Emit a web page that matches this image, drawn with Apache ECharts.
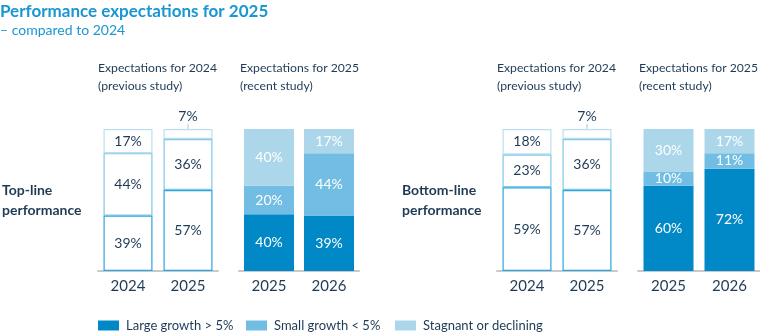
<!DOCTYPE html>
<html><head><meta charset="utf-8">
<script src="https://cdn.jsdelivr.net/npm/echarts@6/dist/echarts.min.js"></script>
<style>html,body{margin:0;padding:0;background:#fff}#c{width:760px;height:333px}</style>
</head><body><div id="c"></div>
<script>
const seriesNames = ['Large growth > 5%', 'Small growth < 5%', 'Stagnant or declining'];
const prevCats = ['2024', '2025'];
const recentCats = ['2025', '2026'];
// Top-line performance
const topPrevLarge = [39, 57], topPrevSmall = [44, 36], topPrevStag = [17, 7];
const topRecLarge = [40, 39], topRecSmall = [20, 44], topRecStag = [40, 17];
// Bottom-line performance
const botPrevLarge = [59, 57], botPrevSmall = [23, 36], botPrevStag = [18, 7];
const botRecLarge = [60, 72], botRecSmall = [10, 11], botRecStag = [30, 17];

const fills = ['#0088c7', '#72bde3', '#acd6ea'];
const borders = ['#2aa5df', '#80c7e8', '#bcdff0'];
const dark = '#1e3a55';
const font = 'Lato';

const grids = [
  {left: 98, width: 120, top: 129, height: 142},
  {left: 239, width: 120, top: 129, height: 142},
  {left: 497, width: 120, top: 129, height: 142},
  {left: 638, width: 122, top: 129, height: 142}
];
const cats = [prevCats, recentCats, prevCats, recentCats];

function prevSeries(gi, arrs) {
  return arrs.map((arr, k) => ({
    name: 'prev' + k, type: 'bar', stack: 's' + gi, xAxisIndex: gi, yAxisIndex: gi,
    barWidth: 49, z: 5 - k,
    data: arr.map(v => {
      const d = {value: v};
      if (k === 2 && v < 10) {
        d.label = {position: 'top', distance: 0, formatter: '{a|{c}%}\n{b|}',
          rich: {a: {fontSize: 14, color: dark, fontFamily: font, lineHeight: 16, align: 'center'},
                 b: {width: 1, height: 5, backgroundColor: '#b8c4cc', align: 'center'}}};
      }
      return d;
    }),
    itemStyle: {color: '#fff', borderColor: borders[k], borderWidth: 1.2},
    label: {show: true, position: 'inside', formatter: '{c}%', color: dark, fontSize: 14, fontFamily: font},
    emphasis: {disabled: true}
  }));
}
function recSeries(gi, arrs) {
  return arrs.map((arr, k) => ({
    name: seriesNames[k], type: 'bar', stack: 's' + gi, xAxisIndex: gi, yAxisIndex: gi,
    barWidth: 50,
    data: arr,
    itemStyle: {color: fills[k]},
    label: {show: true, position: 'inside', formatter: '{c}%', color: '#fff', fontSize: 14, fontFamily: font},
    emphasis: {disabled: true}
  }));
}

const titleText = (text, left, top, style) => ({text, left, top, padding: 0, textStyle: Object.assign({fontFamily: font, color: dark, fontSize: 12.2, fontWeight: 'normal', lineHeight: 18}, style)});

const option = {
  animation: false,
  title: [
    titleText('Performance expectations for 2025', 0, 2, {fontSize: 17, fontWeight: 'bold', color: '#1a96d2', lineHeight: 20}),
    titleText('– compared to 2024', 0, 21, {fontSize: 14, color: '#1a96d2'}),
    titleText('Expectations for 2024\n(previous study)', 98, 59, {}),
    titleText('Expectations for 2025\n(recent study)', 240, 59, {}),
    titleText('Expectations for 2024\n(previous study)', 497, 59, {}),
    titleText('Expectations for 2025\n(recent study)', 639, 59, {}),
    titleText('Top-line\nperformance', 2, 180, {fontSize: 14, fontWeight: 'bold', lineHeight: 20}),
    titleText('Bottom-line\nperformance', 402, 180, {fontSize: 14, fontWeight: 'bold', lineHeight: 20})
  ],
  legend: seriesNames.map((n, i) => ({
    data: [n], left: [98, 246, 395][i], top: 319, padding: 0, icon: 'rect', itemWidth: 21, itemHeight: 10, itemGap: 0,
    textStyle: {fontFamily: font, fontSize: 13, color: dark, padding: [0, 0, 0, 2]},
    selectedMode: false
  })),
  grid: grids,
  xAxis: grids.map((g, i) => ({
    type: 'category', gridIndex: i, data: cats[i],
    axisLine: {lineStyle: {color: '#c9c9c9', width: 2}},
    axisTick: {show: false},
    axisLabel: {color: dark, fontSize: 15, fontFamily: font, margin: 8}
  })),
  yAxis: grids.map((g, i) => ({type: 'value', gridIndex: i, min: 0, max: 100, show: false})),
  series: [
    ...prevSeries(0, [topPrevLarge, topPrevSmall, topPrevStag]),
    ...recSeries(1, [topRecLarge, topRecSmall, topRecStag]),
    ...prevSeries(2, [botPrevLarge, botPrevSmall, botPrevStag]),
    ...recSeries(3, [botRecLarge, botRecSmall, botRecStag])
  ]
};
echarts.init(document.getElementById('c')).setOption(option);
</script></body></html>
